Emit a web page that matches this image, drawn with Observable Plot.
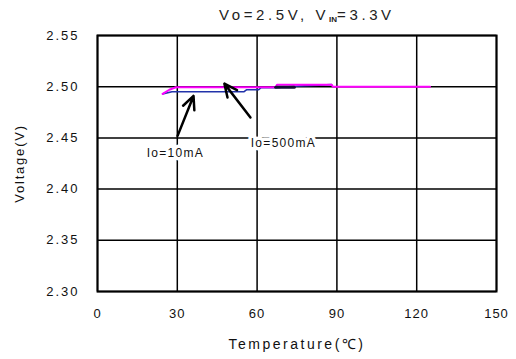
<!DOCTYPE html>
<html><head><meta charset="utf-8">
<script src="https://cdn.jsdelivr.net/npm/d3@7"></script>
<script src="https://cdn.jsdelivr.net/npm/@observablehq/plot@0.6"></script>
<style>
body{margin:0;background:#fff;font-family:"Liberation Sans",Arial,sans-serif;}
#wrap{width:516px;}
#title{height:25px;line-height:30px;font-size:15px;letter-spacing:3.6px;padding-left:219px;color:#222;white-space:nowrap;}
#title sub{font-size:8px;font-weight:bold;vertical-align:-2px;letter-spacing:0;}
svg text{fill:#111;}
g[aria-label="y-axis tick label"] text{letter-spacing:2px;}
g[aria-label="x-axis tick label"] text{letter-spacing:1px;}
g[aria-label="x-axis label"] text{letter-spacing:2.5px;font-size:14px;}
g[aria-label="y-axis label"] text{letter-spacing:1.8px;}
g[aria-label="text"] text{letter-spacing:1.3px;}
</style></head><body>
<div id="wrap"><div id="title">Vo=2.5V, V<sub>IN</sub>=3.3V</div><div id="chart"></div></div>
<script>
// data
const temp10 = [24.5, 28, 55, 56, 60.5, 61.5, 67, 74, 88];
const volt10 = [2.493, 2.495, 2.495, 2.497, 2.497, 2.499, 2.499, 2.5005, 2.502];
const temp500 = [24.5, 27, 29.5, 67, 67.5, 88, 88.5, 125];
const volt500 = [2.493, 2.497, 2.4995, 2.4995, 2.502, 2.502, 2.500, 2.500];
const tempOverlap = [67, 74];
const voltOverlap = [2.4995, 2.4995];
const xTicks = [0, 30, 60, 90, 120, 150];
const yTicks = [2.30, 2.35, 2.40, 2.45, 2.50, 2.55];
const labels = ["Io=10mA", "Io=500mA"];
const labelX = [29.3, 69.9];
const labelY = [2.4347, 2.4452];
const arrowX1 = [30.1, 57.5], arrowY1 = [2.452, 2.470];
const arrowX2 = [36.1, 47.7], arrowY2 = [2.491, 2.503];

const s10 = temp10.map((t,i)=>({t, v: volt10[i]}));
const s500 = temp500.map((t,i)=>({t, v: volt500[i]}));
const sOv = tempOverlap.map((t,i)=>({t, v: voltOverlap[i]}));
const ann = labels.map((l,i)=>({l, x: labelX[i], y: labelY[i]}));
const arr = arrowX1.map((x,i)=>({x1: x, y1: arrowY1[i], x2: arrowX2[i], y2: arrowY2[i]}));

const chart = Plot.plot({
  width: 516, height: 334,
  marginLeft: 97, marginRight: 20, marginTop: 10, marginBottom: 68,
  style: {fontFamily: '"Liberation Sans", Arial, sans-serif', fontSize: "13px", background: "white", overflow: "visible"},
  x: {domain: [0, 150], ticks: xTicks, tickSize: 0, tickPadding: 17, label: "Temperature(℃)", labelAnchor: "center", labelArrow: "none", labelOffset: 57},
  y: {domain: [2.30, 2.55], ticks: yTicks, tickSize: 0, tickPadding: 18, tickFormat: d3.format(".2f"), label: "Voltage(V)", labelAnchor: "center", labelArrow: "none", labelOffset: 83},
  marks: [
    Plot.gridX(xTicks, {stroke: "#000", strokeOpacity: 1, strokeWidth: 1.5}),
    Plot.gridY(yTicks, {stroke: "#000", strokeOpacity: 1, strokeWidth: 1.5}),
    Plot.frame({stroke: "#000", strokeWidth: 2}),
    Plot.line(s10, {x: "t", y: "v", stroke: "#2233aa", strokeWidth: 1.6}),
    Plot.line(s500, {x: "t", y: "v", stroke: "#ff00ff", strokeWidth: 2}),
    Plot.line(sOv, {x: "t", y: "v", stroke: "#111133", strokeWidth: 3}),
    Plot.text(ann, {x: "x", y: "y", text: "l", fontSize: 12, stroke: "white", strokeWidth: 7, fill: "#111", paintOrder: "stroke"}),
    Plot.arrow(arr, {x1: "x1", y1: "y1", x2: "x2", y2: "y2", stroke: "#000", strokeWidth: 2.5, headLength: 10, headAngle: 50})
  ]
});
document.getElementById("chart").appendChild(chart);
</script></body></html>
